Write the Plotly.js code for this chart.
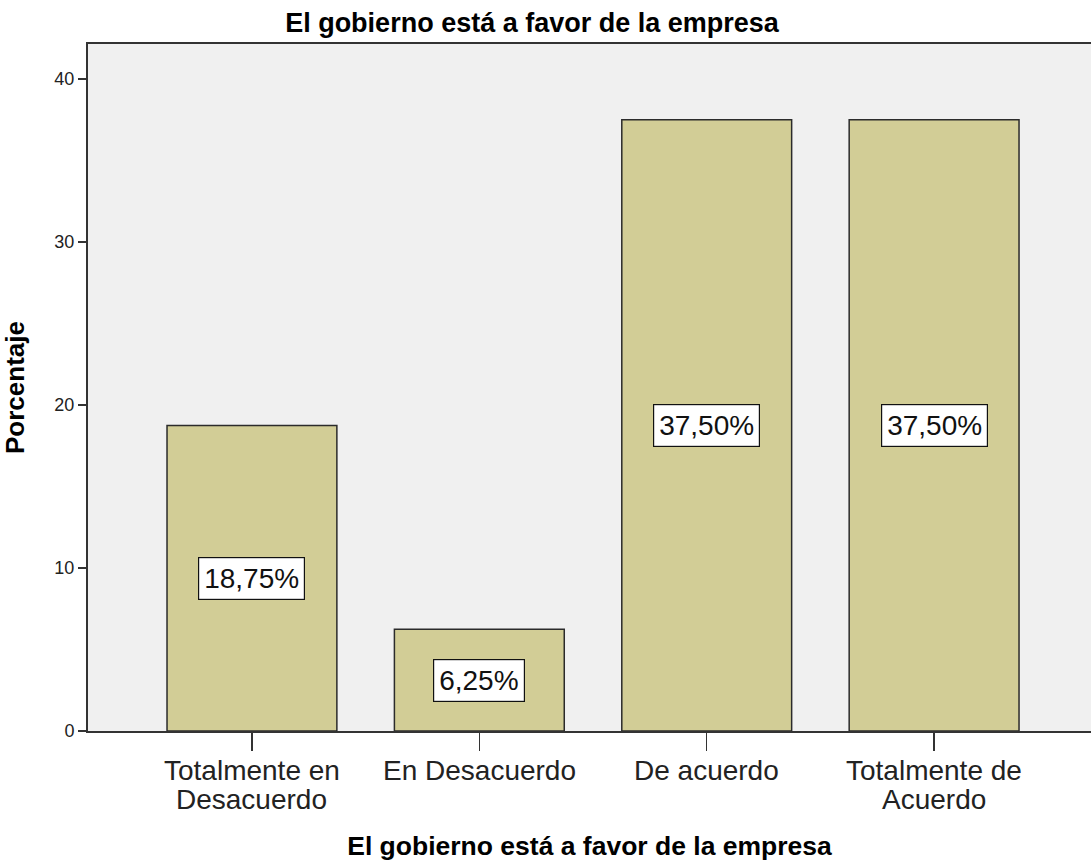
<!DOCTYPE html>
<html><head><meta charset="utf-8">
<script src="https://cdn.plot.ly/plotly-3.0.1.min.js"></script>
<style>body{margin:0;padding:0;background:#fff}#chart{width:1091px;height:861px}</style>
</head><body><div id="chart"></div>
<script>
const categories = [["Totalmente en", "Desacuerdo"], ["En Desacuerdo"], ["De acuerdo"], ["Totalmente de", "Acuerdo"]];
const percentages = [18.75, 6.25, 37.5, 37.5];
const labels = ["18,75%", "6,25%", "37,50%", "37,50%"];
const yTicks = [0, 10, 20, 30, 40];

const FONT = "Liberation Sans, Arial, sans-serif";

const trace = {
  type: "bar",
  x: [0, 1, 2, 3],
  y: percentages,
  width: 0.747,
  marker: {color: "#d2cd96", line: {color: "#2b2b2b", width: 1.5}},
  hoverinfo: "none"
};

const annotations = percentages.map((v, i) => ({
  x: i, y: v / 2, xref: "x", yref: "y",
  text: labels[i], showarrow: false,
  font: {family: FONT, size: 28, color: "#111"},
  bgcolor: "#ffffff", bordercolor: "#111", borderwidth: 1.2, borderpad: 5
}));

// category tick labels, one annotation per line for tighter line spacing
categories.forEach((lines, i) => {
  lines.forEach((line, j) => {
    annotations.push({
      x: i, y: 0, xref: "x", yref: "y",
      yanchor: "top", yshift: -22 - 29 * j,
      text: line, showarrow: false,
      font: {family: FONT, size: 28, color: "#222"}
    });
  });
});

const layout = {
  width: 1091, height: 861,
  margin: {l: 88, r: 0, t: 44, b: 130},
  paper_bgcolor: "#ffffff", plot_bgcolor: "#f0f0f0",
  showlegend: false,
  title: {text: "<b>El gobierno está a favor de la empresa</b>", xref: "container", x: 0.4876, xanchor: "center",
    yref: "container", y: 0.974, yanchor: "middle",
    font: {family: FONT, size: 27, color: "#000"}},
  xaxis: {
    range: [-0.721, 3.69], tickvals: [0, 1, 2, 3], showticklabels: false,
    showgrid: false, zeroline: false, showline: true, linecolor: "#333", linewidth: 2,
    mirror: true,
    ticks: "outside", ticklen: 18, tickwidth: 1.5, tickcolor: "#333",
    title: {text: "<b>El gobierno está a favor de la empresa</b>", standoff: 87,
      font: {family: FONT, size: 26.5, color: "#000"}}
  },
  yaxis: {
    range: [0, 42.15], tickvals: yTicks, ticktext: yTicks.map(String),
    showgrid: false, zeroline: false, showline: true, linecolor: "#333", linewidth: 2,
    ticks: "outside", ticklen: 8, tickwidth: 1.5, tickcolor: "#333",
    tickfont: {family: FONT, size: 18, color: "#222"},
    title: {text: "<b>Porcentaje</b>", standoff: 22,
      font: {family: FONT, size: 26, color: "#000"}}
  },
  annotations: annotations
};

Plotly.newPlot("chart", [trace], layout, {displayModeBar: false, staticPlot: true});
</script></body></html>
